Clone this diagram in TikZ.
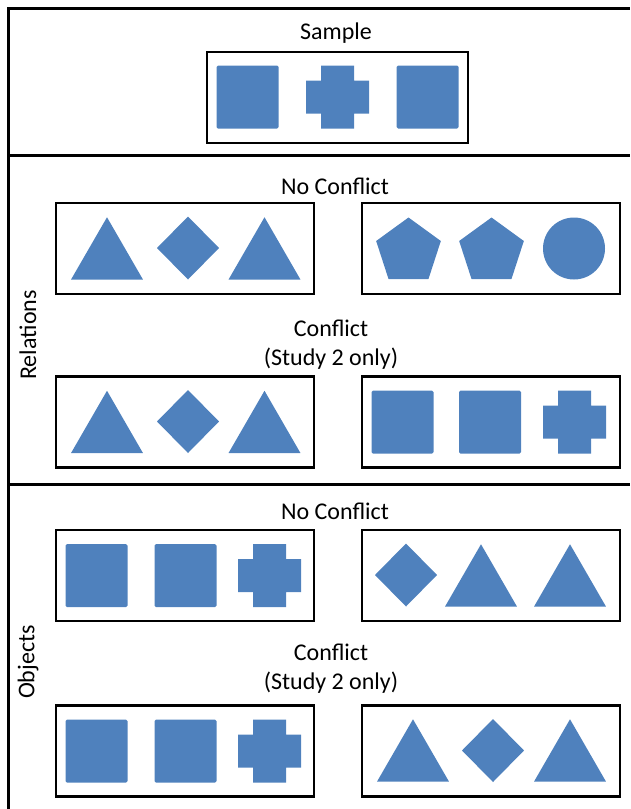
\documentclass[tikz,border=0pt]{standalone}
\usepackage{fontspec}
\setmainfont{Carlito}
\usetikzlibrary{shapes.geometric}
\definecolor{shapeblue}{RGB}{79,129,189}
\newcommand{\labelfont}{\fontsize{24}{29}\selectfont}

\tikzset{
  pics/plusmark/.style={code={
    \fill[shapeblue] (-16.5,-31.5) -- (16.5,-31.5) -- (16.5,-16.5) -- (31.5,-16.5)
      -- (31.5,16.5) -- (16.5,16.5) -- (16.5,31.5) -- (-16.5,31.5) -- (-16.5,16.5)
      -- (-31.5,16.5) -- (-31.5,-16.5) -- (-16.5,-16.5) -- cycle;
  }}
}

\begin{document}
\begin{tikzpicture}[x=1pt,y=-1pt,
    frame/.style={line width=3pt},
    panel/.style={draw, line width=2.5pt, minimum width=258pt, minimum height=91pt, inner sep=0pt},
    base/.style={fill=shapeblue, inner sep=0pt, outer sep=0pt},
    sq/.style={base, rectangle, rounded corners=1.5pt, minimum width=62pt, minimum height=63pt},
    tri/.style={base, regular polygon, regular polygon sides=3, minimum size=83pt, anchor=south},
    dia/.style={base, diamond, minimum width=62pt, minimum height=63pt},
    pent/.style={base, regular polygon, regular polygon sides=5, minimum size=68pt},
    circ/.style={base, circle, minimum size=62pt},
    lbl/.style={font=\labelfont, inner sep=0pt, align=center}]
    \useasboundingbox (0,0) rectangle (630,809);

    % outer frame and section dividers
    \draw[frame] (8,809) -- (8,8) -- (630,8);
    \draw[frame] (8,155) -- (630,155);
    \draw[frame] (8,484) -- (630,484);

    % sample
    \node (sampletxt) at (336,33) [lbl] {Sample};
    \node (samplebox) at (337.5,97.5) [panel, minimum width=261pt] {};
        \node (s1) at (247.5,97) [sq] {};
        \pic (s2) at (337.5,97) {plusmark};
        \node (s3) at (427.5,97) [sq] {};

    % relations
    \node (reltxt) at (28,335) [lbl, rotate=90] {Relations};
    \node (relnc) at (335,186) [lbl] {No Conflict};
    \node (relc) at (331,345) [lbl] {Conflict\\(Study 2 only)};

    \node (rnl) at (185,248.5) [panel] {};
        \node (rnl1) at (107,279.5) [tri] {};
        \node (rnl2) at (188,248) [dia] {};
        \node (rnl3) at (264.5,279.5) [tri] {};
    \node (rnr) at (491,248.5) [panel] {};
        \node (rnr1) at (408.5,251.5) [pent] {};
        \node (rnr2) at (491.5,251.5) [pent] {};
        \node (rnr3) at (574,248.5) [circ] {};

    \node (rcl) at (185,422) [panel] {};
        \node (rcl1) at (107,453) [tri] {};
        \node (rcl2) at (188,421.5) [dia] {};
        \node (rcl3) at (264.5,453) [tri] {};
    \node (rcr) at (491,422) [panel] {};
        \node (rcr1) at (402.5,422) [sq] {};
        \node (rcr2) at (490,422) [sq] {};
        \pic (rcr3) at (574.5,422) {plusmark};

    % objects
    \node (objtxt) at (28,662) [lbl, rotate=90] {Objects};
    \node (objnc) at (335,511) [lbl] {No Conflict};
    \node (objc) at (331,669) [lbl] {Conflict\\(Study 2 only)};

    \node (onl) at (185,575.5) [panel] {};
        \node (onl1) at (96.5,575.5) [sq] {};
        \node (onl2) at (185.5,575.5) [sq] {};
        \pic (onl3) at (269.5,575.5) {plusmark};
    \node (onr) at (491,575.5) [panel] {};
        \node (onr1) at (406,575) [dia] {};
        \node (onr2) at (481,606.5) [tri] {};
        \node (onr3) at (570,606.5) [tri] {};

    \node (ocl) at (185,751) [panel] {};
        \node (ocl1) at (96.5,751) [sq] {};
        \node (ocl2) at (185.5,751) [sq] {};
        \pic (ocl3) at (269.5,751) {plusmark};
    \node (ocr) at (491,751) [panel] {};
        \node (ocr1) at (413,781.5) [tri] {};
        \node (ocr2) at (493,750.5) [dia] {};
        \node (ocr3) at (570,781.5) [tri] {};
\end{tikzpicture}
\end{document}
